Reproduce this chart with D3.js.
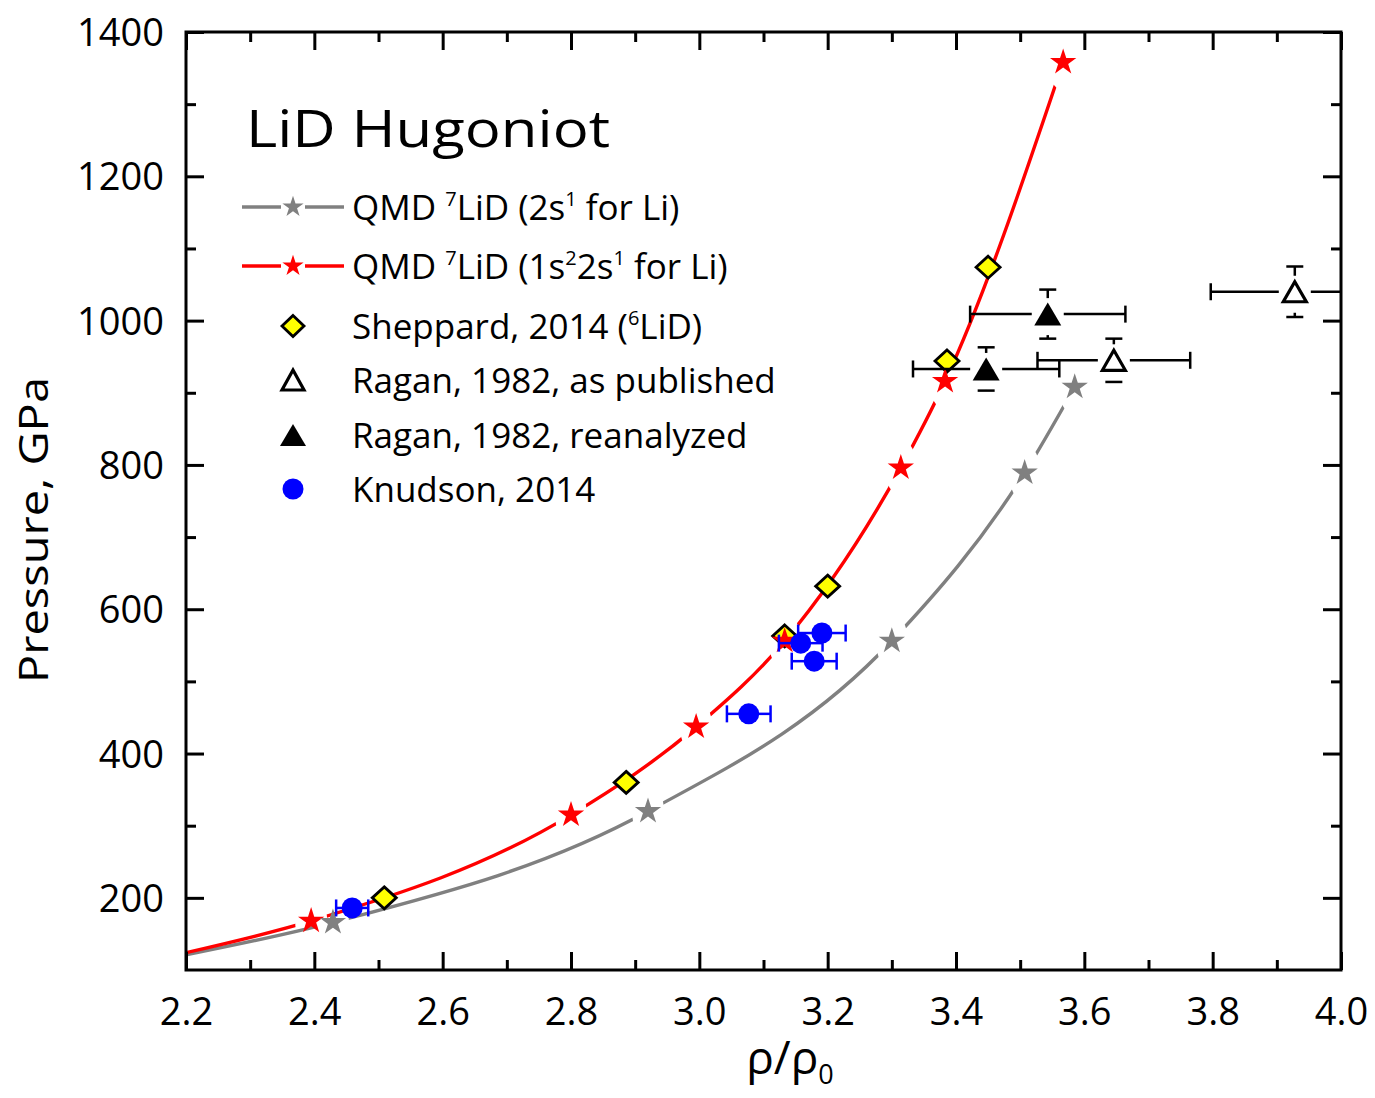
<!DOCTYPE html>
<html>
<head>
<meta charset="utf-8">
<script src="https://cdn.jsdelivr.net/npm/d3@7"></script>
<style>
  html, body { margin: 0; padding: 0; background: #fff; }
  svg { display: block; font-family: "Open Sans", Lato, sans-serif; }
</style>
</head>
<body>
<svg id="chart" width="1375" height="1098"></svg>
<script>
// ---- data ----
// QMD Hugoniot, 7LiD with 2s1 valence for Li
const qmdValenceRho = [2.429, 2.920, 3.300, 3.507, 3.585];
const qmdValenceP   = [166, 320, 556, 789, 908];
const qmdValenceStartP = 121;          // curve value at the left edge (rho/rho0 = 2.2)

// QMD Hugoniot, 7LiD with 1s2 2s1 for Li
const qmdAllRho = [2.395, 2.800, 2.995, 3.133, 3.314, 3.383, 3.567];
const qmdAllP   = [168, 315, 437, 556, 796, 916, 1358];
const qmdAllStartP = 124;

// Sheppard, 2014 (6LiD)
const sheppardRho = [2.509, 2.886, 3.133, 3.200, 3.386, 3.450];
const sheppardP   = [200, 360, 563, 632, 944, 1074];

// Ragan, 1982, as published
const raganPubRho    = [3.646, 3.928];
const raganPubP      = [945, 1040];
const raganPubRhoErr = [0.119, 0.131];
const raganPubPErr   = [30, 35];

// Ragan, 1982, reanalyzed
const raganReRho    = [3.447, 3.543];
const raganReP      = [933, 1009];
const raganReRhoErr = [0.114, 0.121];
const raganRePErr   = [30, 34];

// Knudson, 2014
const knudsonRho    = [2.459, 3.077, 3.158, 3.179, 3.191];
const knudsonP      = [186, 455, 553, 528, 567];
const knudsonRhoErr = [0.025, 0.034, 0.034, 0.035, 0.037];

// axes
const xDomain = [2.2, 4.0];
const yDomain = [100, 1400];
const xTicks = [2.2, 2.4, 2.6, 2.8, 3.0, 3.2, 3.4, 3.6, 3.8, 4.0];
const xTickLabels = ["2.2", "2.4", "2.6", "2.8", "3.0", "3.2", "3.4", "3.6", "3.8", "4.0"];
const xMinorTicks = [2.3, 2.5, 2.7, 2.9, 3.1, 3.3, 3.5, 3.7, 3.9];
const yTicks = [200, 400, 600, 800, 1000, 1200, 1400];
const yTickLabels = ["200", "400", "600", "800", "1000", "1200", "1400"];
const yMinorTicks = [300, 500, 700, 900, 1100, 1300];

// ---- layout ----
const svg = d3.select("#chart");
const M = { left: 186, top: 32, right: 1341, bottom: 970 };
const W = M.right - M.left, H = M.bottom - M.top;

const x = d3.scaleLinear().domain(xDomain).range([0, W]);
const y = d3.scaleLinear().domain(yDomain).range([H, 0]);

const g = svg.append("g").attr("transform", `translate(${M.left},${M.top})`);
const defs = svg.append("defs");

defs.append("clipPath").attr("id", "plotClip")
  .append("rect").attr("x", 0).attr("y", 0).attr("width", W).attr("height", H);

const zip = (a, b) => a.map((v, i) => ({ x: v, y: b[i] }));

// ---- curve gaps: the connecting line stops short of each star ----
const GAP_RX = 16, GAP_RY = 28;
function gapMask(id, rhos, ps) {
  const m = defs.append("mask").attr("id", id).attr("maskUnits", "userSpaceOnUse")
    .attr("x", -50).attr("y", -50).attr("width", W + 100).attr("height", H + 100);
  m.append("rect").attr("x", -50).attr("y", -50).attr("width", W + 100).attr("height", H + 100).attr("fill", "#fff");
  m.selectAll("ellipse").data(zip(rhos, ps)).join("ellipse")
    .attr("cx", d => x(d.x)).attr("cy", d => y(d.y)).attr("rx", GAP_RX).attr("ry", GAP_RY)
    .attr("fill", "#000");
}
gapMask("gapValence", qmdValenceRho, qmdValenceP);
gapMask("gapAll", qmdAllRho, qmdAllP);

const lineGen = d3.line().x(d => x(d.x)).y(d => y(d.y)).curve(d3.curveMonotoneX);

const plot = g.append("g").attr("clip-path", "url(#plotClip)");

plot.append("g").attr("mask", "url(#gapValence)")
  .append("path")
  .datum([{ x: xDomain[0], y: qmdValenceStartP }].concat(zip(qmdValenceRho, qmdValenceP)))
  .attr("d", lineGen).attr("fill", "none").attr("stroke", "#808080").attr("stroke-width", 3.4);

plot.append("g").attr("mask", "url(#gapAll)")
  .append("path")
  .datum([{ x: xDomain[0], y: qmdAllStartP }].concat(zip(qmdAllRho, qmdAllP)))
  .attr("d", lineGen).attr("fill", "none").attr("stroke", "#ff0000").attr("stroke-width", 3.4);

// ---- marker shapes ----
const starPath = s => d3.symbol(d3.symbolStar, s)();
const diamondPath = (w, h) => `M0,${-h}L${w},0L0,${h}L${-w},0Z`;
const trianglePath = (w, h) => `M0,${-h}L${w},${h}L${-w},${h}Z`;

// Sheppard diamonds
plot.selectAll("path.sheppard").data(zip(sheppardRho, sheppardP)).join("path")
  .attr("class", "sheppard")
  .attr("d", diamondPath(12, 11))
  .attr("transform", d => `translate(${x(d.x)},${y(d.y)})`)
  .attr("fill", "#ffff00").attr("stroke", "#000").attr("stroke-width", 2.8)
  .attr("stroke-linejoin", "miter");

// QMD stars
plot.selectAll("path.starAll").data(zip(qmdAllRho, qmdAllP)).join("path")
  .attr("class", "starAll")
  .attr("d", starPath(215))
  .attr("transform", d => `translate(${x(d.x)},${y(d.y)})`)
  .attr("fill", "#ff0000");

plot.selectAll("path.starVal").data(zip(qmdValenceRho, qmdValenceP)).join("path")
  .attr("class", "starVal")
  .attr("d", starPath(215))
  .attr("transform", d => `translate(${x(d.x)},${y(d.y)})`)
  .attr("fill", "#808080");

// ---- error bars ----
const CAP = 8.5;
function errorBars(cls, rhos, ps, rhoErr, pErr, color, markGap) {
  const data = rhos.map((r, i) => ({ x: r, y: ps[i], ex: rhoErr[i], ey: pErr ? pErr[i] : 0 }));
  const eg = plot.append("g").attr("class", cls).attr("stroke", color).attr("stroke-width", 2.5).attr("fill", "none");
  data.forEach(d => {
    const cx = x(d.x), cy = y(d.y);
    const xl = x(d.x - d.ex), xr = x(d.x + d.ex);
    eg.append("line").attr("x1", xl).attr("x2", cx - markGap).attr("y1", cy).attr("y2", cy);
    eg.append("line").attr("x1", cx + markGap).attr("x2", xr).attr("y1", cy).attr("y2", cy);
    eg.append("line").attr("x1", xl).attr("x2", xl).attr("y1", cy - CAP).attr("y2", cy + CAP);
    eg.append("line").attr("x1", xr).attr("x2", xr).attr("y1", cy - CAP).attr("y2", cy + CAP);
    if (d.ey) {
      const yt = y(d.y + d.ey), yb = y(d.y - d.ey);
      eg.append("line").attr("x1", cx).attr("x2", cx).attr("y1", yt).attr("y2", cy - markGap);
      eg.append("line").attr("x1", cx).attr("x2", cx).attr("y1", cy + markGap + 5).attr("y2", yb);
      eg.append("line").attr("x1", cx - CAP).attr("x2", cx + CAP).attr("y1", yt).attr("y2", yt);
      eg.append("line").attr("x1", cx - CAP).attr("x2", cx + CAP).attr("y1", yb).attr("y2", yb);
    }
  });
}

errorBars("errRaganPub", raganPubRho, raganPubP, raganPubRhoErr, raganPubPErr, "#000", 16);
errorBars("errRaganRe", raganReRho, raganReP, raganReRhoErr, raganRePErr, "#000", 16);

plot.selectAll("path.raganPub").data(zip(raganPubRho, raganPubP)).join("path")
  .attr("class", "raganPub")
  .attr("d", trianglePath(11.5, 10))
  .attr("transform", d => `translate(${x(d.x)},${y(d.y)})`)
  .attr("fill", "#fff").attr("stroke", "#000").attr("stroke-width", 3.2);

plot.selectAll("path.raganRe").data(zip(raganReRho, raganReP)).join("path")
  .attr("class", "raganRe")
  .attr("d", trianglePath(13.5, 11.5))
  .attr("transform", d => `translate(${x(d.x)},${y(d.y)})`)
  .attr("fill", "#000");

errorBars("errKnudson", knudsonRho, knudsonP, knudsonRhoErr, null, "#0000ff", 0);

plot.selectAll("circle.knudson").data(zip(knudsonRho, knudsonP)).join("circle")
  .attr("class", "knudson")
  .attr("cx", d => x(d.x)).attr("cy", d => y(d.y)).attr("r", 10.5)
  .attr("fill", "#0000ff");

// ---- axes and frame ----
const TICK_FONT = 38;
function styleAxis(sel) {
  sel.select(".domain").remove();
  sel.selectAll(".tick line").attr("stroke", "#000").attr("stroke-width", 3);
}

const fmtX = d => xTickLabels[xTicks.indexOf(d)];
const fmtY = d => yTickLabels[yTicks.indexOf(d)];

// bottom
const gb = g.append("g").attr("transform", `translate(0,${H})`)
  .call(d3.axisBottom(x).tickValues(xTicks).tickSize(-18).tickFormat(fmtX));
styleAxis(gb);
gb.selectAll(".tick text").attr("font-size", TICK_FONT).attr("font-family", "'Open Sans', sans-serif")
  .attr("fill", "#000").attr("dy", null).attr("y", 55);
g.append("g").attr("transform", `translate(0,${H})`)
  .call(d3.axisBottom(x).tickValues(xMinorTicks).tickSize(-10).tickFormat(""))
  .call(styleAxis);

// top
g.append("g").call(d3.axisTop(x).tickValues(xTicks).tickSize(-18).tickFormat("")).call(styleAxis);
g.append("g").call(d3.axisTop(x).tickValues(xMinorTicks).tickSize(-10).tickFormat("")).call(styleAxis);

// left
const gl = g.append("g")
  .call(d3.axisLeft(y).tickValues(yTicks).tickSize(-18).tickPadding(22).tickFormat(fmtY));
styleAxis(gl);
gl.selectAll(".tick text").attr("font-size", TICK_FONT).attr("font-family", "'Open Sans', sans-serif")
  .attr("fill", "#000").attr("dy", "0.36em");
g.append("g").call(d3.axisLeft(y).tickValues(yMinorTicks).tickSize(-10).tickFormat("")).call(styleAxis);

// right
g.append("g").attr("transform", `translate(${W},0)`)
  .call(d3.axisRight(y).tickValues(yTicks).tickSize(-18).tickFormat("")).call(styleAxis);
g.append("g").attr("transform", `translate(${W},0)`)
  .call(d3.axisRight(y).tickValues(yMinorTicks).tickSize(-10).tickFormat("")).call(styleAxis);

g.append("rect").attr("x", 0).attr("y", 0).attr("width", W).attr("height", H)
  .attr("fill", "none").attr("stroke", "#000").attr("stroke-width", 3);

// ---- axis titles ----
const xt = svg.append("text").attr("x", 790).attr("y", 1074).attr("text-anchor", "middle")
  .attr("font-size", 46).attr("fill", "#000");
xt.append("tspan").text("ρ/ρ");
xt.append("tspan").attr("font-size", 27).attr("dy", 10).text("0");

svg.append("text").attr("transform", "translate(48,530) rotate(-90)")
  .attr("text-anchor", "middle").attr("font-size", 41).attr("fill", "#000")
  .attr("textLength", 306).attr("lengthAdjust", "spacingAndGlyphs")
  .text("Pressure, GPa");

// ---- plot title ----
svg.append("text").attr("x", 246).attr("y", 147).attr("font-size", 52).attr("fill", "#000")
  .attr("textLength", 364).attr("lengthAdjust", "spacingAndGlyphs")
  .text("LiD Hugoniot");

// ---- legend ----
const LEG_FONT = 35, SUP_FONT = 20;
const legendRows = [
  { kind: "lineStar", color: "#808080", parts: [["QMD "], ["7", 1], ["LiD (2s"], ["1", 1], [" for Li)"]] },
  { kind: "lineStar", color: "#ff0000", parts: [["QMD "], ["7", 1], ["LiD (1s"], ["2", 1], ["2s"], ["1", 1], [" for Li)"]] },
  { kind: "diamond", parts: [["Sheppard, 2014 ("], ["6", 1], ["LiD)"]] },
  { kind: "openTri", parts: [["Ragan, 1982, as published"]] },
  { kind: "fillTri", parts: [["Ragan, 1982, reanalyzed"]] },
  { kind: "circle", parts: [["Knudson, 2014"]] }
];
const legendY = [207, 266, 326, 380, 435, 489];
const leg = svg.append("g");
legendRows.forEach((row, i) => {
  const cy = legendY[i], mx = 293;
  const r = leg.append("g");
  if (row.kind === "lineStar") {
    r.append("line").attr("x1", 242).attr("x2", 281).attr("y1", cy).attr("y2", cy)
      .attr("stroke", row.color).attr("stroke-width", 3.4);
    r.append("line").attr("x1", 305).attr("x2", 344).attr("y1", cy).attr("y2", cy)
      .attr("stroke", row.color).attr("stroke-width", 3.4);
    r.append("path").attr("d", starPath(140)).attr("transform", `translate(${mx},${cy})`).attr("fill", row.color);
  } else if (row.kind === "diamond") {
    r.append("path").attr("d", diamondPath(11, 10.5)).attr("transform", `translate(${mx},${cy})`)
      .attr("fill", "#ffff00").attr("stroke", "#000").attr("stroke-width", 2.8);
  } else if (row.kind === "openTri") {
    r.append("path").attr("d", trianglePath(11, 10)).attr("transform", `translate(${mx},${cy})`)
      .attr("fill", "#fff").attr("stroke", "#000").attr("stroke-width", 3.2);
  } else if (row.kind === "fillTri") {
    r.append("path").attr("d", trianglePath(13, 11)).attr("transform", `translate(${mx},${cy})`)
      .attr("fill", "#000");
  } else {
    r.append("circle").attr("cx", mx).attr("cy", cy).attr("r", 10.5).attr("fill", "#0000ff");
  }
  const t = r.append("text").attr("x", 352).attr("y", cy + 13).attr("font-size", LEG_FONT).attr("fill", "#000");
  let raised = false;
  row.parts.forEach(([s, sup]) => {
    const ts = t.append("tspan").text(s);
    if (sup && !raised) { ts.attr("font-size", SUP_FONT).attr("dy", -14); raised = true; }
    else if (!sup && raised) { ts.attr("dy", 14); raised = false; }
    else if (sup) { ts.attr("font-size", SUP_FONT); }
  });
});
</script>
</body>
</html>
